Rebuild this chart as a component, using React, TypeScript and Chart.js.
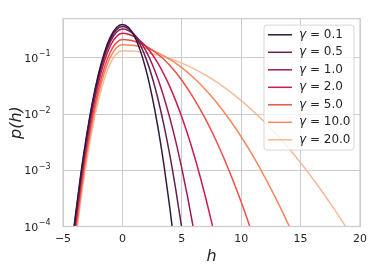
import React, { useEffect, useRef } from "react";
import { Chart, registerables } from "chart.js";

Chart.register(...registerables);

// ---- data ----
const gammaLabels = ["0.1", "0.5", "1.0", "2.0", "5.0", "10.0", "20.0"];
const lineColors = ["#2e1a3c", "#611f53", "#9a1b5a", "#cb1b4f", "#ee5049", "#f4875e", "#f6bb99"];

const hLeft = [-4.4, -4, -3.5, -3, -2.5, -2, -1.5, -1, -0.5, 0];

const hG01 = [...hLeft, 0.5, 1, 1.5, 2, 2.5, 3, 3.5, 4, 4.5];
const pG01 = [2.46e-5, 1.32e-4, 8.63e-4, 4.37e-3, 0.0173, 0.0533, 0.128, 0.239, 0.348, 0.394,
  0.350, 0.246, 0.136, 0.0598, 0.0207, 0.00567, 0.00123, 2.09e-4, 2.82e-5];

const hG05 = [...hLeft, 0.5, 1, 1.5, 2, 2.5, 3, 3.5, 4, 4.5, 5, 5.5];
const pG05 = [2.25e-5, 1.21e-4, 7.88e-4, 4.0e-3, 0.0158, 0.0487, 0.117, 0.218, 0.318, 0.360,
  0.332, 0.259, 0.171, 0.0960, 0.0456, 0.0184, 0.00628, 0.00182, 4.46e-4, 9.29e-5, 1.64e-5];

const hG1 = [...hLeft, 0.5, 1, 1.5, 2, 2.5, 3, 3.5, 4, 4.5, 5, 5.5, 6, 6.5];
const pG1 = [2.03e-5, 1.09e-4, 7.12e-4, 3.61e-3, 0.0143, 0.0440, 0.1055, 0.197, 0.287, 0.325,
  0.307, 0.259, 0.1945, 0.1304, 0.0780, 0.0417, 0.0198, 0.00843, 0.00320, 0.00108, 3.26e-4, 8.78e-5, 2.1e-5];

const hG2 = [...hLeft, 0.5, 1, 1.5, 2, 2.5, 3, 3.5, 4, 4.5, 5, 5.5, 6, 6.5, 7, 7.5, 8];
const pG2 = [1.71e-5, 9.15e-5, 5.98e-4, 3.03e-3, 0.0120, 0.0369, 0.0886, 0.166, 0.241, 0.273,
  0.264, 0.238, 0.2005, 0.158, 0.116, 0.0795, 0.0509, 0.0305, 0.0170, 0.00888, 0.00432, 0.00197,
  8.34e-4, 3.31e-4, 1.22e-4, 4.23e-5];

const hG5 = [...hLeft, 0.5, 1, 1.5, 2, 3, 4, 5, 6, 7, 8, 9, 10, 10.5, 11];
const pG5 = [1.33e-5, 7.1e-5, 4.64e-4, 2.35e-3, 9.31e-3, 0.0287, 0.0688, 0.129, 0.187, 0.212,
  0.2085, 0.198, 0.1825, 0.162, 0.116, 0.0730, 0.0401, 0.0193, 0.00811, 0.00299, 9.63e-4, 2.72e-4,
  1.37e-4, 6.71e-5];

const hG10 = [...hLeft, 0.5, 1, 2, 3, 4, 5, 6, 7, 8, 9, 10, 11, 12, 13, 14, 14.5];
const pG10 = [1.08e-5, 5.76e-5, 3.77e-4, 1.91e-3, 7.55e-3, 0.0233, 0.0559, 0.104, 0.152, 0.172,
  0.170, 0.1656, 0.148, 0.1225, 0.0940, 0.0670, 0.0442, 0.0271, 0.0154, 0.00809, 0.00395, 0.00179,
  7.51e-4, 2.92e-4, 1.06e-4, 6.16e-5];

const hG20 = [...hLeft, 1, 2, 3, 4, 5, 6, 7, 8, 9, 10, 11, 12, 13, 14, 15, 16, 17, 18, 19, 19.5];
const pG20 = [8.4e-6, 4.49e-5, 2.93e-4, 1.49e-3, 5.88e-3, 0.0181, 0.0435, 0.0813, 0.118, 0.134,
  0.131, 0.1235, 0.1115, 0.0967, 0.0805, 0.0643, 0.0493, 0.0363, 0.0257, 0.0174, 0.0113, 0.0071,
  0.00426, 0.00246, 0.00136, 7.22e-4, 3.68e-4, 1.80e-4, 8.47e-5, 5.72e-5];

const seriesH = [hG01, hG05, hG1, hG2, hG5, hG10, hG20];
const seriesP = [pG01, pG05, pG1, pG2, pG5, pG10, pG20];

const yTickValues = [1e-4, 1e-3, 1e-2, 1e-1];
const yTickBase = "10";
const yTickExponents = ["\u22124", "\u22123", "\u22122", "\u22121"];
const xTickValues = [-5, 0, 5, 10, 15, 20];
const xTickLabels = ["\u22125", "0", "5", "10", "15", "20"];

const TEXT = "#262626";
const GRID = "#cccccc";
const FONT = "'DejaVu Sans', sans-serif";

const framePlugin = {
  id: "frame",
  afterDatasetsDraw(chart: any) {
    const { ctx, chartArea: a } = chart;
    ctx.save();
    ctx.strokeStyle = GRID;
    ctx.lineWidth = 1.25;
    ctx.strokeRect(a.left, a.top, a.right - a.left, a.bottom - a.top);
    ctx.restore();
  },
};

// y tick labels as "10" with a raised exponent, like mathtext
const yLabelPlugin = {
  id: "yLabels",
  afterDraw(chart: any) {
    const { ctx } = chart;
    const ys = chart.scales.y;
    const right = chart.chartArea.left - 13;
    ctx.save();
    ctx.fillStyle = TEXT;
    ctx.textAlign = "left";
    ctx.textBaseline = "alphabetic";
    yTickValues.forEach((v, i) => {
      const py = ys.getPixelForValue(v);
      ctx.font = `8px ${FONT}`;
      const ew = ctx.measureText(yTickExponents[i]).width;
      ctx.font = `11px ${FONT}`;
      const bw = ctx.measureText(yTickBase).width;
      const x0 = right - ew - bw;
      ctx.fillText(yTickBase, x0, py + 4);
      ctx.font = `8px ${FONT}`;
      ctx.fillText(yTickExponents[i], x0 + bw + 0.5, py - 1.5);
    });
    ctx.restore();
  },
};

const legendPlugin = {
  id: "customLegend",
  afterDraw(chart: any) {
    const { ctx, chartArea: a } = chart;
    const w = 90;
    const h = 125;
    const x0 = a.right - 6 - w;
    const y0 = a.top + 6.5;
    ctx.save();
    ctx.beginPath();
    const r = 3;
    ctx.moveTo(x0 + r, y0);
    ctx.lineTo(x0 + w - r, y0);
    ctx.quadraticCurveTo(x0 + w, y0, x0 + w, y0 + r);
    ctx.lineTo(x0 + w, y0 + h - r);
    ctx.quadraticCurveTo(x0 + w, y0 + h, x0 + w - r, y0 + h);
    ctx.lineTo(x0 + r, y0 + h);
    ctx.quadraticCurveTo(x0, y0 + h, x0, y0 + h - r);
    ctx.lineTo(x0, y0 + r);
    ctx.quadraticCurveTo(x0, y0, x0 + r, y0);
    ctx.closePath();
    ctx.fillStyle = "rgba(255,255,255,0.8)";
    ctx.fill();
    ctx.strokeStyle = "rgba(204,204,204,0.8)";
    ctx.lineWidth = 1;
    ctx.stroke();

    chart.data.datasets.forEach((ds: any, i: number) => {
      const cy = y0 + 9.7 + i * 17.5;
      ctx.beginPath();
      ctx.strokeStyle = ds.borderColor;
      ctx.lineWidth = 1.5;
      ctx.moveTo(x0 + 4, cy);
      ctx.lineTo(x0 + 28, cy);
      ctx.stroke();
      ctx.fillStyle = TEXT;
      ctx.textBaseline = "middle";
      ctx.textAlign = "left";
      let tx = x0 + 35;
      ctx.font = `italic 12px ${FONT}`;
      ctx.fillText("\u03B3", tx, cy);
      tx += ctx.measureText("\u03B3").width;
      ctx.font = `12px ${FONT}`;
      ctx.fillText(" = " + gammaLabels[i], tx, cy);
    });
    ctx.restore();
  },
};

export default function App() {
  const ref = useRef<HTMLCanvasElement | null>(null);

  useEffect(() => {
    if (!ref.current) return;
    const datasets = seriesH.map((hs, i) => ({
      label: "\u03B3 = " + gammaLabels[i],
      data: hs.map((h, j) => ({ x: h, y: seriesP[i][j] })),
      borderColor: lineColors[i],
      backgroundColor: lineColors[i],
      borderWidth: 1.5,
      pointRadius: 0,
      fill: false,
      cubicInterpolationMode: "monotone" as const,
    }));

    const chart = new Chart(ref.current, {
      type: "line",
      data: { datasets },
      options: {
        responsive: false,
        animation: false,
        devicePixelRatio: 1,
        layout: { padding: { left: 0, right: 14, top: 5.5, bottom: 0 } },
        plugins: {
          legend: { display: false },
          tooltip: { enabled: false },
        },
        scales: {
          x: {
            type: "linear",
            min: -5,
            max: 20,
            afterBuildTicks: (s: any) => {
              s.ticks = xTickValues.map((v) => ({ value: v }));
            },
            afterFit: (s: any) => {
              s.height = 45.5;
            },
            ticks: {
              padding: 6,
              color: TEXT,
              font: { family: FONT, size: 11 },
              maxRotation: 0,
              callback: (v: any) => {
                const k = xTickValues.indexOf(Number(v));
                return k >= 0 ? xTickLabels[k] : "";
              },
            },
            grid: { color: GRID, lineWidth: 1, drawTicks: false },
            border: { display: false },
            title: {
              display: true,
              text: "h",
              color: TEXT,
              font: { family: FONT, size: 16, style: "italic" },
              padding: { top: 0, bottom: 6 },
            },
          },
          y: {
            type: "logarithmic",
            min: 1e-4,
            max: 0.5,
            afterBuildTicks: (s: any) => {
              s.ticks = yTickValues.map((v) => ({ value: v }));
            },
            afterFit: (s: any) => {
              s.width = 63;
            },
            ticks: {
              padding: 12,
              color: TEXT,
              font: { family: FONT, size: 11 },
              callback: () => "",
            },
            grid: { color: GRID, lineWidth: 1, drawTicks: false },
            border: { display: false },
            title: {
              display: true,
              text: "p(h)",
              color: TEXT,
              font: { family: FONT, size: 16, style: "italic" },
              padding: { top: 7, bottom: 0 },
            },
          },
        },
      },
      plugins: [framePlugin, yLabelPlugin, legendPlugin],
    });
    return () => chart.destroy();
  }, []);

  return (
    <div style={{ position: "absolute", left: 0, top: 0, width: 374, height: 272, background: "#fff" }}>
      <canvas ref={ref} width={374} height={272} />
    </div>
  );
}
